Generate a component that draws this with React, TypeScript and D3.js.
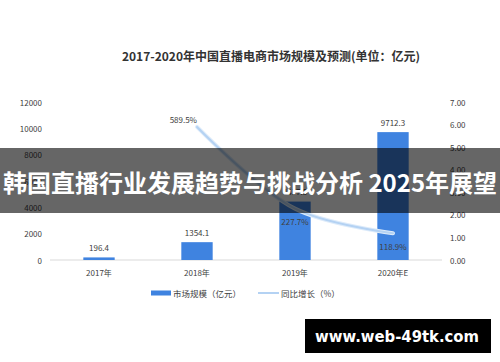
import * as d3 from 'd3';

const categories = ['2017年', '2018年', '2019年', '2020年E'];
const marketSize = [196.4, 1354.1, 4437.5, 9712.3];
const growth: (number | null)[] = [null, 5.895, 2.277, 1.189];
const growthLabels = ['', '589.5%', '227.7%', '118.9%'];
const leftTicks = [0, 2000, 4000, 6000, 8000, 10000, 12000];
const rightTicks = [0, 1, 2, 3, 4, 5, 6, 7];

const W = 500;
const H = 362;
const CJK = '"Noto Sans CJK SC", "Noto Sans", sans-serif';
const BAR = '#3F83E0';

export default function App() {
  const margin = { left: 50, right: 442, top: 102, bottom: 260 };

  const x = d3.scaleBand<string>()
    .domain(categories)
    .range([margin.left, margin.right])
    .paddingInner(0.68)
    .paddingOuter(0.34);

  const yL = d3.scaleLinear().domain([0, 12000]).range([margin.bottom, margin.top]);
  const yR = d3.scaleLinear().domain([0, 7]).range([margin.bottom, margin.top]);

  const cx = (c: string) => (x(c) || 0) + x.bandwidth() / 2;

  const pts = categories
    .map((c, i) => ({ c, v: growth[i], i }))
    .filter(d => d.v !== null) as { c: string; v: number; i: number }[];

  const line = d3.line<{ c: string; v: number }>()
    .x(d => cx(d.c))
    .y(d => yR(d.v))
    .curve(d3.curveCatmullRom.alpha(0.5));

  const labelOffset = (i: number) => {
    // 2018 label sits above-left, the others sit below the point
    if (i === 1) return { dx: 0, dy: -7, anchor: 'end' };
    return { dx: 0, dy: 13, anchor: 'middle' };
  };

  return (
    <svg
      width={W}
      height={H}
      style={{ position: 'absolute', left: 0, top: 0, background: '#fff' }}
    >
      {/* title */}
      <text
        x={271}
        y={55}
        textAnchor="middle"
        dominantBaseline="central"
        fontFamily={CJK}
        fontWeight="bold"
        fontSize={12}
        fill="#333"
      >
        2017-2020年中国直播电商市场规模及预测(单位：亿元)
      </text>

      {/* left axis */}
      {leftTicks.map(t => (
        <text
          key={'l' + t}
          x={42}
          y={yL(t)}
          textAnchor="end"
          dominantBaseline="central"
          fontFamily={CJK}
          fontSize={8}
          fill="#404040"
        >
          {t}
        </text>
      ))}

      {/* right axis */}
      {rightTicks.map(t => (
        <text
          key={'r' + t}
          x={450}
          y={yR(t)}
          textAnchor="start"
          dominantBaseline="central"
          fontFamily={CJK}
          fontSize={8}
          fill="#404040"
        >
          {t.toFixed(2)}
        </text>
      ))}

      {/* baseline */}
      <line x1={margin.left} x2={margin.right} y1={yL(0)} y2={yL(0)} stroke="#d9d9d9" strokeWidth={1} />

      {/* bars */}
      {categories.map((c, i) => (
        <g key={c}>
          <rect
            x={x(c)}
            y={yL(marketSize[i])}
            width={x.bandwidth()}
            height={yL(0) - yL(marketSize[i])}
            fill={BAR}
          />
          <text
            x={cx(c)}
            y={yL(marketSize[i]) - 10}
            textAnchor="middle"
            dominantBaseline="central"
            fontFamily={CJK}
            fontSize={8}
            fill="#404040"
          >
            {marketSize[i]}
          </text>
          <text
            x={cx(c)}
            y={272}
            textAnchor="middle"
            dominantBaseline="central"
            fontFamily={CJK}
            fontSize={8}
            fill="#404040"
          >
            {c}
          </text>
        </g>
      ))}

      {/* growth line */}
      <path d={line(pts) || ''} fill="none" stroke="#DDEBFA" strokeWidth={4} strokeLinecap="round" />
      <path d={line(pts) || ''} fill="none" stroke="#B4D2F3" strokeWidth={2} strokeLinecap="round" />
      {pts.map(d => {
        const o = labelOffset(d.i);
        return (
          <text
            key={'g' + d.c}
            x={cx(d.c) + o.dx}
            y={yR(d.v) + o.dy}
            textAnchor={o.anchor}
            dominantBaseline="central"
            fontFamily={CJK}
            fontSize={8}
            fill="#404040"
          >
            {growthLabels[d.i]}
          </text>
        );
      })}

      {/* legend */}
      <rect x={151} y={290.5} width={20} height={5} fill={BAR} />
      <text x={173} y={293} dominantBaseline="central" fontFamily={CJK} fontSize={8.5} fill="#404040">
        市场规模（亿元）
      </text>
      <line x1={258} x2={279} y1={293} y2={293} stroke="#B4D2F3" strokeWidth={2} />
      <text x={281} y={293} dominantBaseline="central" fontFamily={CJK} fontSize={8.5} fill="#404040">
        同比增长（%）
      </text>

      {/* overlay banner */}
      <rect x={0} y={148} width={W} height={65} fill="rgba(0,0,0,0.6)" />
      <text
        x={250}
        y={181}
        textAnchor="middle"
        dominantBaseline="central"
        fontFamily={CJK}
        fontWeight="bold"
        fontSize={24}
        fill="#fff"
      >
        韩国直播行业发展趋势与挑战分析 2025年展望
      </text>

      {/* watermark */}
      <rect x={305} y={319} width={186} height={34} fill="#000" />
      <text
        x={397}
        y={336}
        textAnchor="middle"
        dominantBaseline="central"
        fontFamily='"DejaVu Sans", Verdana, sans-serif'
        fontWeight="bold"
        fontSize={16}
        textLength={164}
        lengthAdjust="spacingAndGlyphs"
        fill="#fff"
      >
        www.web-49tk.com
      </text>
    </svg>
  );
}
